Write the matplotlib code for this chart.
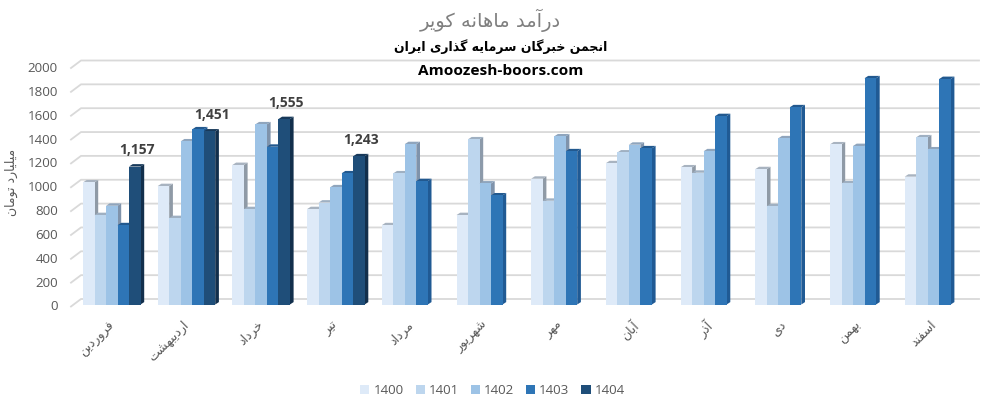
import matplotlib
matplotlib.use("Agg")
import matplotlib.pyplot as plt
from matplotlib.patches import Patch
from matplotlib.transforms import Affine2D

months = ["فروردین", "اردیبهشت", "خرداد", "تیر", "مرداد", "شهریور",
          "مهر", "آبان", "آذر", "دی", "بهمن", "اسفند"]
years = ["1400", "1401", "1402", "1403", "1404"]

v1400 = [1024, 993, 1170, 800, 665, 750, 1055, 1185, 1150, 1135, 1343, 1072]
v1401 = [750, 725, 800, 855, 1100, 1385, 870, 1275, 1105, 825, 1016, 1402]
v1402 = [828, 1368, 1511, 983, 1345, 1015, 1410, 1340, 1285, 1394, 1329, 1301]
v1403 = [665, 1469, 1323, 1100, 1035, 915, 1285, 1310, 1580, 1654, 1897, 1891]
v1404 = [1157, 1451, 1555, 1243]

series = [v1400, v1401, v1402, v1403, v1404]
yticks = list(range(0, 2001, 200))

front = ["#deeaf8", "#bdd6ee", "#9dc3e6", "#2e75b6", "#1f4e79"]
top = ["#a8b3c0", "#9fb0c2", "#8fa5bd", "#22598f", "#17395a"]
side = ["#8f9aa6", "#8c9aaa", "#7f93ab", "#205a94", "#122f4c"]

W, H = 1007, 401
LEFT, RIGHT = 71, 979
Y0, Y2000 = 304.5, 66
PX_X = 74.7                    # pixels per group
PX_Y = (Y0 - Y2000) / 2000     # pixels per unit
BAR = 11.5 / PX_X
DX = 3.7 / PX_X
DY = 2.4 / PX_Y

# persian letters -> first presentation form (isol, final, init, medial)
DUAL = {"ب": 0xFE8F, "پ": 0xFB56, "ت": 0xFE95, "ج": 0xFE9D, "چ": 0xFB7A, "خ": 0xFEA5,
        "س": 0xFEB1, "ش": 0xFEB5, "ف": 0xFED1, "ک": 0xFB8E, "گ": 0xFB92, "ل": 0xFEDD,
        "م": 0xFEE1, "ن": 0xFEE5, "ه": 0xFEE9, "ی": 0xFBFC}
RIGHT_ONLY = {"ا": 0xFE8D, "آ": 0xFE81, "د": 0xFEA9, "ذ": 0xFEAB, "ر": 0xFEAD,
              "ز": 0xFEAF, "و": 0xFEED}


def shape(text):
    # matplotlib does no arabic shaping, so pick the forms and reverse by hand
    out = []
    for i, ch in enumerate(text):
        if ch not in DUAL and ch not in RIGHT_ONLY:
            out.append(ch)
            continue
        prev_joins = i > 0 and text[i - 1] in DUAL
        next_joins = i + 1 < len(text) and (text[i + 1] in DUAL or text[i + 1] in RIGHT_ONLY)
        if ch in RIGHT_ONLY:
            out.append(chr(RIGHT_ONLY[ch] + (1 if prev_joins else 0)))
        else:
            form = (1 if prev_joins else 0) + (2 if next_joins else 0)
            out.append(chr(DUAL[ch] + form))
    return "".join(reversed(out))


def draw_bars(ax):
    for g in range(len(months)):
        x_start = g - 2.5 * BAR
        for s, vals in enumerate(series):
            if g >= len(vals):
                continue
            v = vals[g]
            x0 = x_start + s * BAR
            x1 = x0 + BAR
            z = 3 + g + s * 0.1
            ax.fill([x1, x1 + DX, x1 + DX, x1], [0, DY, v + DY, v],
                    color=side[s], lw=0, zorder=z, clip_on=False)
            ax.fill([x0, x0 + DX, x1 + DX, x1], [v, v + DY, v + DY, v],
                    color=top[s], lw=0, zorder=z + 0.01, clip_on=False)
            ax.bar(x0 + BAR / 2, v, width=BAR, color=front[s], lw=0, zorder=z + 0.02)
            if s == 4:
                ax.annotate(f"{v:,}", (x0 + BAR / 2, v), xytext=(2.3, 16.5),
                            textcoords="offset pixels", ha="center", va="center",
                            fontsize=10, fontweight="bold", family="Open Sans",
                            color="#404040", zorder=20)


def main():
    fig = plt.figure(figsize=(W / 100, H / 100), dpi=100)
    ax = fig.add_axes([LEFT / W, 1 - Y0 / H, (RIGHT - LEFT) / W, (Y0 - Y2000) / H])
    ax.set_xlim((LEFT - 111.75) / PX_X, (RIGHT - 111.75) / PX_X)
    ax.set_ylim(0, 2000)
    for sp in ax.spines.values():
        sp.set_visible(False)

    # back wall lines with the short slanted piece on the left
    xl, xr = ax.get_xlim()
    for v in yticks:
        ax.plot([xl, xl + 10 / PX_X, xr],
                [v - 2 / PX_Y, v + 5.5 / PX_Y, v + 5.5 / PX_Y],
                color="#d9d9d9", lw=1.3, zorder=1, clip_on=False)

    draw_bars(ax)

    ax.set_yticks(yticks)
    ax.set_yticklabels([str(v) for v in yticks], fontsize=9.6, family="Open Sans", color="#595959")
    ax.set_xticks(range(len(months)))
    ax.set_xticklabels([shape(m) for m in months], rotation=45, ha="right",
                       rotation_mode="anchor", fontsize=9, color="#595959")
    ax.tick_params(axis="both", length=0)
    ax.tick_params(axis="y", pad=9.4)
    ax.tick_params(axis="x", pad=10)
    for lab in ax.get_yticklabels():
        lab.set_transform(lab.get_transform() + Affine2D().translate(0, -1))
    for lab in ax.get_xticklabels():
        lab.set_transform(lab.get_transform() + Affine2D().translate(-4, 0))

    fig.text(490 / W, 1 - 20 / H, shape("درآمد ماهانه کویر"), ha="center", va="center",
             fontsize=14, color="#7f7f7f")
    fig.text(501 / W, 1 - 47 / H, shape("انجمن خبرگان سرمایه گذاری ایران"), ha="center",
             va="center", fontsize=9, fontweight="bold", color="black")
    fig.text(501 / W, 1 - 71 / H, "Amoozesh-boors.com", ha="center", va="center",
             fontsize=11.1, fontweight="bold", family="Open Sans", color="black")
    fig.text(11 / W, 1 - 182 / H, shape("میلیارد تومان"), rotation=90, ha="center", va="center",
             fontsize=9, color="#595959")

    handles = [Patch(color=c, lw=0) for c in front]
    fig.legend(handles, years, ncol=5, loc="center", bbox_to_anchor=(492.5 / W, 1 - 390.5 / H),
               frameon=False, handlelength=0.68, handleheight=0.62, handletextpad=0.3,
               columnspacing=0.9, prop={"family": "Open Sans", "size": 9.6},
               labelcolor="#595959", borderpad=0)

    fig.savefig("out.png", dpi=100)


if __name__ == "__main__":
    main()
